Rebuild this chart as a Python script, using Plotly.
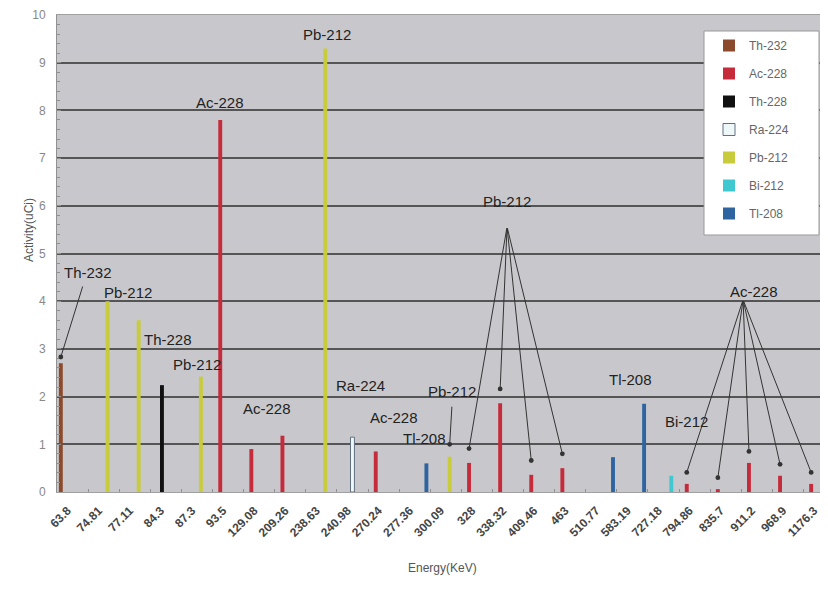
import plotly.graph_objects as go

# ---------------- data ----------------
energies = ["63.8", "74.81", "77.11", "84.3", "87.3", "93.5", "129.08", "209.26",
            "238.63", "240.98", "270.24", "277.36", "300.09", "328", "338.32",
            "409.46", "463", "510.77", "583.19", "727.18", "794.86", "835.7",
            "911.2", "968.9", "1176.3"]

series_names = ["Th-232", "Ac-228", "Th-228", "Ra-224", "Pb-212", "Bi-212", "Tl-208"]

th232 = [2.7] + [None] * 24
ac228 = [None, None, None, None, None, 7.8, 0.9, 1.18, None, None, 0.85, None, None,
         0.61, 1.86, 0.36, 0.5, None, None, None, 0.17, 0.06, 0.61, 0.34, 0.17]
th228 = [None, None, None, 2.24] + [None] * 21
ra224 = [None] * 9 + [1.15] + [None] * 15
pb212 = [None, 4.0, 3.6, None, 2.42, None, None, None, 9.3, None, None, None, 0.74] + [None] * 12
bi212 = [None] * 19 + [0.34] + [None] * 5
tl208 = [None] * 11 + [0.6] + [None] * 5 + [0.73, 1.85] + [None] * 6

series_values = [th232, ac228, th228, ra224, pb212, bi212, tl208]
series_colors = ["#8B4A2B", "#C62B3B", "#111111", "#EEF8F8", "#C8CC3C", "#40C8D0", "#2E65A0"]

# text labels: (text, x-index, y-value)
labels = [("Th-232", 0.50, 4.61), ("Pb-212", 1.78, 4.19), ("Th-228", 3.07, 3.19),
          ("Pb-212", 4.00, 2.68), ("Ac-228", 4.74, 8.16), ("Ac-228", 6.25, 1.76),
          ("Pb-212", 8.18, 9.60), ("Ra-224", 9.27, 2.24), ("Ac-228", 10.34, 1.57),
          ("Tl-208", 11.33, 1.13), ("Pb-212", 12.20, 2.10), ("Pb-212", 13.97, 6.10),
          ("Tl-208", 17.93, 2.35), ("Bi-212", 19.73, 1.47), ("Ac-228", 21.91, 4.20)]

# pointer groups: (tail x, tail y, series index, [category indices], lift above bar)
pointers = [(0.34, 4.34, 0, [0], 0.13),
            (12.20, 1.82, 4, [12], 0.26),
            (13.97, 5.56, 1, [13, 14, 15, 16], 0.30),
            (21.56, 4.03, 1, [20, 21, 22, 23, 24], 0.24)]

# ---------------- figure ----------------
BARGAP = 0.12
NS = len(series_names)
slot = (1 - BARGAP) / NS

OFF = 8                       # page body margin
W, H = 828 - OFF, 590 - OFF
L, R, T = 57 - OFF, 0, 15 - OFF
PB = 492 - OFF                # plot bottom in figure px
B = H - PB
pw, ph = W - L - R, PB - T


def px_x(x):                  # window px -> paper x
    return (x - OFF - L) / pw


def px_y(y):                  # window px -> paper y
    return (PB - (y - OFF)) / ph


fig = go.Figure()
for i, (name, vals, col) in enumerate(zip(series_names, series_values, series_colors)):
    fig.add_trace(go.Bar(
        x=energies, y=vals, name=name, legendgroup=name,
        marker=dict(color=col,
                    line=dict(color="#607080" if name == "Ra-224" else col,
                              width=1 if name == "Ra-224" else 0)),
    ))

annotations = []
for text, x, y in labels:
    annotations.append(dict(x=x, y=y, xref="x", yref="y", text=text, showarrow=False,
                            font=dict(family="Liberation Sans", size=15, color="#222222")))

for tx, ty, si, cats, lift in pointers:
    for c in cats:
        bx = c - (1 - BARGAP) / 2 + (si + 0.5) * slot
        by = series_values[si][c] + lift
        annotations.append(dict(x=bx, y=by, xref="x", yref="y", ax=tx, ay=ty,
                                axref="x", ayref="y", text="", showarrow=True,
                                arrowhead=6, arrowsize=1.2, arrowwidth=1,
                                arrowcolor="#333333", standoff=0, startstandoff=0))

annotations.append(dict(x=px_x(442), y=px_y(577), xref="paper", yref="paper", text="Energy(KeV)",
                        showarrow=False, font=dict(family="Liberation Sans", size=12, color="#555555")))
annotations.append(dict(x=px_x(20), y=px_y(230), xref="paper", yref="paper", text="Activity(uCi)",
                        textangle=-90, showarrow=False,
                        font=dict(family="Liberation Sans", size=12, color="#555555")))

fig.update_layout(
    width=W, height=H,
    margin=dict(l=L, r=R, t=T, b=B, pad=0),
    paper_bgcolor="white", plot_bgcolor="#C8C8CC",
    barmode="group", bargap=BARGAP, bargroupgap=0,
    font=dict(family="Liberation Sans", size=12, color="#444444"),
    legend=dict(x=px_x(709), y=px_y(31), xanchor="left", yanchor="top",
                bgcolor="rgba(0,0,0,0)", borderwidth=0, tracegroupgap=9,
                font=dict(family="Liberation Sans", size=12, color="#666666")),
    annotations=annotations,
    shapes=[dict(type="rect", xref="paper", yref="paper",
                 x0=px_x(704), x1=px_x(819), y0=px_y(235), y1=px_y(31),
                 fillcolor="white", line=dict(color="#999999", width=1), layer="above")],
    xaxis=dict(type="category", range=[-0.5, 24.29], tickangle=-45,
               showgrid=False, showline=True, mirror=True, linecolor="#A0A0A0", linewidth=1,
               ticks="inside", ticklen=3, tickcolor="#909090", tickson="boundaries",
               ticklabelstandoff=6, ticklabelshift=-5,
               tickfont=dict(family="Liberation Sans", size=12, color="#444444", weight="bold")),
    yaxis=dict(range=[0, 10], dtick=1, showgrid=True, gridcolor="#555555", gridwidth=1.5,
               zeroline=False, showline=True, linecolor="#909090", linewidth=1,
               ticks="inside", ticklen=4, tickcolor="#909090", ticklabelstandoff=8,
               minor=dict(dtick=0.2, ticks="inside", ticklen=3, tickcolor="#909090", showgrid=False),
               tickfont=dict(family="Liberation Sans", size=12, color="#888888")),
)

fig.write_html("out.html")
